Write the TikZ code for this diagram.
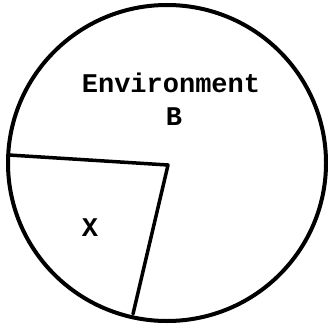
\documentclass[tikz,border=0pt]{standalone}
\usepackage{fontspec}
\newfontfamily\twfont{Liberation Mono}
\begin{document}
\begin{tikzpicture}[x=1pt,y=-1pt,
  lbl/.style={font=\twfont\bfseries\fontsize{27}{30}\selectfont, inner sep=0pt, anchor=center},
  edge/.style={line width=3.5pt, line join=round, line cap=round}]
\useasboundingbox (0,0) rectangle (328,323);
\draw[line width=4pt] (167,163) ellipse [x radius=159, y radius=158];
\coordinate (C) at (168,165);
\coordinate (L) at (9,155);
\coordinate (Bt) at (133,314);
\draw[edge] (L) -- (C) -- (Bt);
\node[lbl] (env) at (171,83) {Environment};
\node[lbl] (b) at (174,117) {B};
\node[lbl] (x) at (90,228) {X};
\end{tikzpicture}
\end{document}
